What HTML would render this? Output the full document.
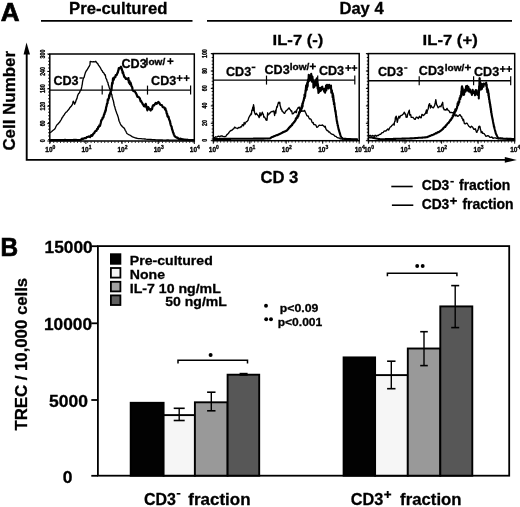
<!DOCTYPE html><html><head><meta charset="utf-8"><style>html,body{margin:0;padding:0;background:#fff;}svg{display:block;will-change:transform;}text{font-family:"Liberation Sans",sans-serif;font-weight:bold;stroke:#000;stroke-width:0.3px;}</style></head><body>
<svg width="520" height="507" viewBox="0 0 520 507">
<rect width="520" height="507" fill="#fff"/>
<g>
<text x="0.8" y="21.4" font-size="25.5" textLength="18.8" lengthAdjust="spacingAndGlyphs" style="stroke-width:0.7px">A</text>
<text x="69" y="14" font-size="16.5" textLength="98.5" lengthAdjust="spacingAndGlyphs">Pre-cultured</text>
<line x1="41" y1="20.9" x2="192.5" y2="20.9" stroke="#000" stroke-width="1.9"/>
<text x="339.4" y="13.5" font-size="16.5" textLength="44.3" lengthAdjust="spacingAndGlyphs">Day 4</text>
<line x1="207" y1="20.9" x2="512" y2="20.9" stroke="#000" stroke-width="1.9"/>
<text x="272.6" y="45" font-size="15.5" textLength="50.8" lengthAdjust="spacingAndGlyphs">IL-7 (-)</text>
<text x="422.6" y="45" font-size="15.5" textLength="55.1" lengthAdjust="spacingAndGlyphs">IL-7 (+)</text>
<polyline points="26.7,54 26.7,159.9 505,159.9" fill="none" stroke="#000" stroke-width="1.9"/>
<polygon points="26.5,42.4 23.6,54.6 30,54.6" fill="#000"/>
<polygon points="516.8,159.9 504.8,157.1 504.8,162.7" fill="#000"/>
<text transform="translate(14.5,150.6) rotate(-90)" font-size="16.4" textLength="99.6" lengthAdjust="spacingAndGlyphs">Cell Number</text>
<text x="260.4" y="182.8" font-size="16.3" textLength="38" lengthAdjust="spacingAndGlyphs">CD 3</text>
<line x1="391.3" y1="186.5" x2="412.7" y2="186.5" stroke="#000" stroke-width="1.6"/>
<line x1="391.9" y1="205.2" x2="413.3" y2="205.2" stroke="#000" stroke-width="1.6"/>
<text x="421.7" y="190.1" font-size="13.8" textLength="27.6" lengthAdjust="spacingAndGlyphs">CD3</text>
<line x1="450.4" y1="181.7" x2="453.8" y2="181.7" stroke="#000" stroke-width="1.6"/>
<text x="459" y="190.1" font-size="13.8" textLength="51.2" lengthAdjust="spacingAndGlyphs">fraction</text>
<text x="421.7" y="209.2" font-size="13.8" textLength="27.6" lengthAdjust="spacingAndGlyphs">CD3</text>
<line x1="450.1" y1="200.9" x2="456.9" y2="200.9" stroke="#000" stroke-width="1.8"/><line x1="453.5" y1="197.5" x2="453.5" y2="204.3" stroke="#000" stroke-width="1.8"/>
<text x="462.4" y="209.2" font-size="13.8" textLength="51.2" lengthAdjust="spacingAndGlyphs">fraction</text>
<rect x="49.8" y="54" width="144.5" height="87.0" fill="none" stroke="#000" stroke-width="1.5"/><line x1="47.3" y1="141.0" x2="49.8" y2="141.0" stroke="#000" stroke-width="1"/><line x1="47.3" y1="123.6" x2="49.8" y2="123.6" stroke="#000" stroke-width="1"/><line x1="47.3" y1="106.2" x2="49.8" y2="106.2" stroke="#000" stroke-width="1"/><line x1="47.3" y1="88.8" x2="49.8" y2="88.8" stroke="#000" stroke-width="1"/><line x1="47.3" y1="71.4" x2="49.8" y2="71.4" stroke="#000" stroke-width="1"/><line x1="47.3" y1="54.0" x2="49.8" y2="54.0" stroke="#000" stroke-width="1"/><line x1="48.8" y1="54" x2="48.8" y2="141.0" stroke="#000" stroke-width="1.2" stroke-dasharray="1,2.4"/><line x1="49.8" y1="142.2" x2="194.3" y2="142.2" stroke="#000" stroke-width="1.2" stroke-dasharray="1,2.4"/><line x1="49.8" y1="141.0" x2="49.8" y2="144.0" stroke="#000" stroke-width="1"/><text x="45.3" y="151.8" font-size="6.5">10<tspan font-size="5" dy="-2.8">0</tspan></text><line x1="85.9" y1="141.0" x2="85.9" y2="144.0" stroke="#000" stroke-width="1"/><text x="81.4" y="151.8" font-size="6.5">10<tspan font-size="5" dy="-2.8">1</tspan></text><line x1="122.0" y1="141.0" x2="122.0" y2="144.0" stroke="#000" stroke-width="1"/><text x="117.5" y="151.8" font-size="6.5">10<tspan font-size="5" dy="-2.8">2</tspan></text><line x1="158.2" y1="141.0" x2="158.2" y2="144.0" stroke="#000" stroke-width="1"/><text x="153.7" y="151.8" font-size="6.5">10<tspan font-size="5" dy="-2.8">3</tspan></text><line x1="194.3" y1="141.0" x2="194.3" y2="144.0" stroke="#000" stroke-width="1"/><text x="189.8" y="151.8" font-size="6.5">10<tspan font-size="5" dy="-2.8">4</tspan></text>
<rect x="213.3" y="53.6" width="145.89999999999998" height="87.1" fill="none" stroke="#000" stroke-width="1.5"/><line x1="210.8" y1="140.7" x2="213.3" y2="140.7" stroke="#000" stroke-width="1"/><line x1="210.8" y1="123.3" x2="213.3" y2="123.3" stroke="#000" stroke-width="1"/><line x1="210.8" y1="105.9" x2="213.3" y2="105.9" stroke="#000" stroke-width="1"/><line x1="210.8" y1="88.4" x2="213.3" y2="88.4" stroke="#000" stroke-width="1"/><line x1="210.8" y1="71.0" x2="213.3" y2="71.0" stroke="#000" stroke-width="1"/><line x1="210.8" y1="53.6" x2="213.3" y2="53.6" stroke="#000" stroke-width="1"/><line x1="212.3" y1="53.6" x2="212.3" y2="140.7" stroke="#000" stroke-width="1.2" stroke-dasharray="1,2.4"/><line x1="213.3" y1="141.89999999999998" x2="359.2" y2="141.89999999999998" stroke="#000" stroke-width="1.2" stroke-dasharray="1,2.4"/><line x1="213.3" y1="140.7" x2="213.3" y2="143.7" stroke="#000" stroke-width="1"/><text x="208.8" y="151.5" font-size="6.5">10<tspan font-size="5" dy="-2.8">0</tspan></text><line x1="249.8" y1="140.7" x2="249.8" y2="143.7" stroke="#000" stroke-width="1"/><text x="245.3" y="151.5" font-size="6.5">10<tspan font-size="5" dy="-2.8">1</tspan></text><line x1="286.2" y1="140.7" x2="286.2" y2="143.7" stroke="#000" stroke-width="1"/><text x="281.8" y="151.5" font-size="6.5">10<tspan font-size="5" dy="-2.8">2</tspan></text><line x1="322.7" y1="140.7" x2="322.7" y2="143.7" stroke="#000" stroke-width="1"/><text x="318.2" y="151.5" font-size="6.5">10<tspan font-size="5" dy="-2.8">3</tspan></text><line x1="359.2" y1="140.7" x2="359.2" y2="143.7" stroke="#000" stroke-width="1"/><text x="354.7" y="151.5" font-size="6.5">10<tspan font-size="5" dy="-2.8">4</tspan></text>
<rect x="368.4" y="53.6" width="146.30000000000007" height="87.1" fill="none" stroke="#000" stroke-width="1.5"/><line x1="365.9" y1="140.7" x2="368.4" y2="140.7" stroke="#000" stroke-width="1"/><line x1="365.9" y1="123.3" x2="368.4" y2="123.3" stroke="#000" stroke-width="1"/><line x1="365.9" y1="105.9" x2="368.4" y2="105.9" stroke="#000" stroke-width="1"/><line x1="365.9" y1="88.4" x2="368.4" y2="88.4" stroke="#000" stroke-width="1"/><line x1="365.9" y1="71.0" x2="368.4" y2="71.0" stroke="#000" stroke-width="1"/><line x1="365.9" y1="53.6" x2="368.4" y2="53.6" stroke="#000" stroke-width="1"/><line x1="367.4" y1="53.6" x2="367.4" y2="140.7" stroke="#000" stroke-width="1.2" stroke-dasharray="1,2.4"/><line x1="368.4" y1="141.89999999999998" x2="514.7" y2="141.89999999999998" stroke="#000" stroke-width="1.2" stroke-dasharray="1,2.4"/><line x1="368.4" y1="140.7" x2="368.4" y2="143.7" stroke="#000" stroke-width="1"/><text x="363.9" y="151.5" font-size="6.5">10<tspan font-size="5" dy="-2.8">0</tspan></text><line x1="405.0" y1="140.7" x2="405.0" y2="143.7" stroke="#000" stroke-width="1"/><text x="400.5" y="151.5" font-size="6.5">10<tspan font-size="5" dy="-2.8">1</tspan></text><line x1="441.6" y1="140.7" x2="441.6" y2="143.7" stroke="#000" stroke-width="1"/><text x="437.1" y="151.5" font-size="6.5">10<tspan font-size="5" dy="-2.8">2</tspan></text><line x1="478.1" y1="140.7" x2="478.1" y2="143.7" stroke="#000" stroke-width="1"/><text x="473.6" y="151.5" font-size="6.5">10<tspan font-size="5" dy="-2.8">3</tspan></text><line x1="514.7" y1="140.7" x2="514.7" y2="143.7" stroke="#000" stroke-width="1"/><text x="510.2" y="151.5" font-size="6.5">10<tspan font-size="5" dy="-2.8">4</tspan></text>
<text transform="translate(45.4,140.8) rotate(-90)" font-size="6.4" text-anchor="middle" textLength="2.95" lengthAdjust="spacingAndGlyphs" stroke="#000" stroke-width="0.3">0</text><text transform="translate(45.4,123.4) rotate(-90)" font-size="6.4" text-anchor="middle" textLength="5.90" lengthAdjust="spacingAndGlyphs" stroke="#000" stroke-width="0.3">60</text><text transform="translate(45.4,106.1) rotate(-90)" font-size="6.4" text-anchor="middle" textLength="8.85" lengthAdjust="spacingAndGlyphs" stroke="#000" stroke-width="0.3">120</text><text transform="translate(45.4,88.7) rotate(-90)" font-size="6.4" text-anchor="middle" textLength="8.85" lengthAdjust="spacingAndGlyphs" stroke="#000" stroke-width="0.3">180</text><text transform="translate(45.4,71.4) rotate(-90)" font-size="6.4" text-anchor="middle" textLength="8.85" lengthAdjust="spacingAndGlyphs" stroke="#000" stroke-width="0.3">240</text><text transform="translate(45.4,54.0) rotate(-90)" font-size="6.4" text-anchor="middle" textLength="8.85" lengthAdjust="spacingAndGlyphs" stroke="#000" stroke-width="0.3">300</text>
<text transform="translate(207.1,140.3) rotate(-90)" font-size="6.4" text-anchor="middle" textLength="2.95" lengthAdjust="spacingAndGlyphs" stroke="#000" stroke-width="0.3">0</text><text transform="translate(207.1,123.0) rotate(-90)" font-size="6.4" text-anchor="middle" textLength="5.90" lengthAdjust="spacingAndGlyphs" stroke="#000" stroke-width="0.3">20</text><text transform="translate(207.1,105.6) rotate(-90)" font-size="6.4" text-anchor="middle" textLength="5.90" lengthAdjust="spacingAndGlyphs" stroke="#000" stroke-width="0.3">40</text><text transform="translate(207.1,88.3) rotate(-90)" font-size="6.4" text-anchor="middle" textLength="5.90" lengthAdjust="spacingAndGlyphs" stroke="#000" stroke-width="0.3">60</text><text transform="translate(207.1,70.9) rotate(-90)" font-size="6.4" text-anchor="middle" textLength="5.90" lengthAdjust="spacingAndGlyphs" stroke="#000" stroke-width="0.3">80</text><text transform="translate(207.1,53.6) rotate(-90)" font-size="6.4" text-anchor="middle" textLength="8.85" lengthAdjust="spacingAndGlyphs" stroke="#000" stroke-width="0.3">100</text>
<line x1="49.7" y1="90.1" x2="190.6" y2="90.1" stroke="#000" stroke-width="1.4"/><line x1="102.2" y1="85.6" x2="102.2" y2="94.6" stroke="#000" stroke-width="1.2"/><line x1="147.5" y1="85.6" x2="147.5" y2="94.6" stroke="#000" stroke-width="1.2"/><line x1="190.6" y1="85.6" x2="190.6" y2="94.6" stroke="#000" stroke-width="1.2"/>
<line x1="213.2" y1="80.1" x2="354.8" y2="80.1" stroke="#000" stroke-width="1.4"/><line x1="266.5" y1="75.6" x2="266.5" y2="84.6" stroke="#000" stroke-width="1.2"/><line x1="317.7" y1="75.6" x2="317.7" y2="84.6" stroke="#000" stroke-width="1.2"/><line x1="354.8" y1="75.6" x2="354.8" y2="84.6" stroke="#000" stroke-width="1.2"/>
<line x1="368.4" y1="80.8" x2="510.7" y2="80.8" stroke="#000" stroke-width="1.4"/><line x1="419.2" y1="76.3" x2="419.2" y2="85.3" stroke="#000" stroke-width="1.2"/><line x1="473.6" y1="76.3" x2="473.6" y2="85.3" stroke="#000" stroke-width="1.2"/><line x1="510.7" y1="76.3" x2="510.7" y2="85.3" stroke="#000" stroke-width="1.2"/>
<polyline points="50.0,132.7 51.5,131.7 52.5,130.8 53.5,130.0 54.5,129.3 55.3,128.1 56.0,126.5 56.8,125.0 57.7,124.3 58.6,123.2 59.5,122.3 60.4,120.9 61.0,120.0 61.6,118.9 62.2,117.5 62.8,116.9 63.4,115.8 64.0,115.3 64.9,113.6 65.9,112.4 66.8,111.8 67.8,110.4 68.7,109.6 69.6,108.0 70.5,107.0 71.4,106.0 72.3,104.7 72.7,103.4 73.0,101.8 73.4,101.2 74.0,102.5 74.6,104.2 75.1,102.9 75.6,102.1 76.0,100.5 76.5,99.4 77.0,98.4 77.5,96.1 78.0,94.7 78.7,93.4 79.4,93.0 80.2,90.8 81.1,89.8 81.4,88.4 81.8,86.7 82.1,84.9 82.3,84.3 82.5,82.2 82.7,81.1 83.2,78.9 83.6,77.9 84.1,77.3 84.6,75.4 85.4,72.6 86.2,71.0 87.0,70.0 87.8,68.7 88.5,67.4 89.2,66.4 89.9,64.7 90.0,64.3 90.1,63.3 90.2,61.4 92.1,61.8 93.4,61.6 94.8,61.8 95.8,61.3 96.9,63.0 97.7,63.6 98.5,65.1 99.6,66.7 100.6,68.2 101.6,70.2 102.2,70.7 102.8,72.2 103.5,72.6 104.1,73.4 104.7,74.9 105.2,74.7 105.7,77.2 106.1,78.6 106.6,79.2 107.1,81.2 107.5,82.0 107.9,82.5 108.3,84.8 108.7,85.7 109.1,87.2 109.8,88.9 110.6,91.0 110.9,91.8 111.2,93.0 111.6,94.4 111.9,94.9 112.2,97.3 112.5,97.7 112.8,99.5 113.2,100.2 113.5,101.5 113.8,103.0 114.1,105.0 114.4,105.9 114.8,106.8 115.1,108.2 115.4,109.2 115.9,110.8 116.3,111.9 116.8,113.5 117.2,114.2 117.7,115.7 118.1,116.9 118.5,118.3 118.8,120.0 119.2,121.2 119.8,122.5 120.3,123.8 120.9,124.9 121.5,125.5 122.5,126.9 123.6,127.5 124.6,128.8 125.2,130.3 125.8,131.1 126.3,132.3 126.9,133.5 128.2,134.3 129.5,135.0 130.8,135.7 132.1,136.6 133.3,137.2 134.6,137.7 135.9,138.0 137.2,138.3 138.5,138.6 139.8,138.6 141.0,138.7 142.2,138.8 143.5,138.8 144.8,139.0 146.0,139.2 147.2,139.3 148.5,139.3 149.8,139.4 151.0,139.5 152.2,139.6 153.5,139.7 154.8,139.7 156.0,139.8 157.2,139.9 158.5,140.0 159.7,140.0 160.9,140.0 162.2,140.0 163.4,140.1 164.6,140.1 165.8,140.1 167.1,140.0 168.3,140.0 169.5,140.1 170.7,140.1 172.0,140.1 173.2,140.1 174.4,140.1 175.6,140.1 176.9,140.1 178.1,140.1 179.3,140.1 180.5,140.2 181.8,140.1 183.0,140.1 184.2,140.2 185.4,140.1 186.7,140.1 187.9,140.2 189.1,140.2 190.3,140.2 191.6,140.2 192.8,140.2 194.0,140.2" fill="none" stroke="#000" stroke-width="1.35" stroke-linejoin="round"/>
<polyline points="50.0,140.3 51.0,140.2 52.0,140.2 53.0,140.2 54.0,140.2 55.0,140.1 56.0,140.1 57.0,140.1 58.0,140.1 59.0,140.1 60.0,140.1 61.0,140.1 62.0,140.1 63.0,140.1 64.0,140.1 65.0,139.9 66.0,140.2 67.0,140.1 68.0,140.0 69.0,140.1 70.0,140.1 71.0,140.1 72.0,140.0 73.0,140.1 74.0,139.9 75.0,140.2 76.0,139.9 77.0,140.0 78.0,140.0 79.0,140.0 80.0,140.0 81.0,139.7 81.9,138.7 82.9,138.9 83.8,138.5 84.8,138.1 85.8,138.2 86.7,137.2 87.7,137.0 88.8,136.5 90.0,137.1 90.7,135.9 91.4,135.1 92.2,135.8 92.9,134.5 93.6,133.5 94.3,132.9 95.0,131.5 95.7,130.9 96.4,130.9 97.1,128.9 97.7,129.1 98.3,126.9 98.9,126.9 99.5,125.2 100.0,125.8 100.4,124.3 100.9,122.2 101.3,120.2 101.8,119.9 102.2,119.4 102.6,117.7 103.0,117.7 103.4,117.2 103.8,115.4 104.2,114.1 104.5,114.2 104.8,112.3 105.1,112.3 105.4,110.3 105.7,111.0 106.0,108.3 106.3,106.6 106.5,106.6 106.8,104.9 107.0,103.6 107.3,103.4 107.5,103.2 107.8,99.3 108.1,100.4 108.4,99.4 108.7,98.4 108.9,98.4 109.2,95.2 109.5,96.3 109.8,94.2 110.1,93.5 110.5,92.1 110.8,90.9 111.1,89.6 111.3,89.6 111.4,90.5 111.6,88.2 111.7,86.9 111.9,85.5 112.1,83.0 112.4,83.1 112.6,83.6 113.0,78.5 113.4,80.2 113.8,79.5 114.2,77.6 114.5,77.3 114.9,77.1 115.3,77.2 115.7,75.1 116.6,75.1 117.5,72.9 117.8,72.6 118.2,70.8 118.5,70.0 118.8,68.1 120.0,68.3 120.3,67.7 121.0,66.8 121.7,68.7 122.0,70.3 122.3,70.6 122.6,72.9 122.8,73.1 123.1,72.4 123.4,73.7 124.2,76.8 125.1,77.5 125.9,78.9 126.7,78.7 127.6,79.5 128.4,78.1 128.9,82.7 129.4,80.9 130.0,84.2 130.5,82.6 131.0,84.2 131.4,86.1 131.8,86.5 132.2,87.2 132.6,90.0 133.0,90.7 133.7,91.2 134.3,91.2 134.9,91.5 135.6,92.7 136.2,93.6 136.8,95.0 137.5,96.8 138.1,96.8 138.9,97.2 139.8,98.4 140.6,101.3 141.1,101.0 141.6,102.0 142.2,103.0 142.7,104.1 143.2,104.6 144.0,106.2 144.9,106.5 145.7,103.8 146.5,106.9 147.4,110.3 148.2,107.2 149.4,109.1 150.7,110.5 151.3,108.8 152.0,109.2 152.7,106.1 153.3,105.2 154.1,105.4 155.0,104.0 155.8,102.9 156.6,103.8 157.5,102.9 158.3,102.0 159.1,102.6 160.0,104.3 160.8,105.0 161.8,105.1 162.7,106.9 163.7,107.4 164.6,107.8 165.0,109.3 165.4,108.6 165.8,110.4 166.3,111.1 166.7,113.6 167.1,113.8 167.5,116.2 167.8,116.8 168.2,116.3 168.6,116.9 169.0,119.1 169.3,119.6 169.7,120.8 170.0,121.2 170.3,123.3 170.5,124.0 170.8,125.1 171.1,126.0 171.4,126.3 171.6,126.6 171.9,128.7 172.2,129.5 172.6,130.6 173.0,132.3 173.4,132.9 173.9,134.6 174.3,135.1 174.7,136.3 175.6,136.9 176.6,137.6 177.6,137.7 178.5,138.8 179.6,138.8 180.7,138.7 181.8,139.2 182.9,139.3 184.0,139.6 185.1,139.7 186.2,139.8 187.3,139.7 188.4,140.1 189.5,140.1 190.7,140.1 191.8,140.1 192.9,140.2 194.0,140.2" fill="none" stroke="#000" stroke-width="2.25" stroke-linejoin="round"/>
<polyline points="214.0,138.0 214.6,137.7 215.6,136.8 216.7,137.1 217.7,136.5 218.7,136.2 219.8,136.8 220.8,135.9 222.0,136.0 223.1,136.4 224.2,136.7 225.4,136.5 226.2,136.0 226.9,134.6 227.7,134.1 228.5,133.3 229.2,132.1 230.0,131.2 230.8,130.4 231.5,130.5 232.3,129.9 233.1,129.1 233.8,128.7 234.6,127.1 235.6,127.9 236.7,128.2 237.7,128.5 238.7,127.4 239.8,127.7 240.8,126.6 241.5,126.9 242.2,124.9 242.8,124.7 243.5,125.8 244.2,122.5 244.9,124.1 245.5,123.0 246.2,121.7 246.9,121.6 247.5,120.8 248.0,120.4 248.6,118.3 249.1,117.1 249.7,116.2 250.2,114.9 250.8,115.0 251.1,113.3 251.5,114.2 251.8,110.2 252.1,110.1 252.5,109.2 252.8,107.0 253.1,110.5 253.5,104.7 253.8,106.2 253.9,106.9 254.0,110.4 254.1,107.3 254.3,111.7 254.4,110.7 254.5,112.3 254.6,112.8 255.5,114.6 256.4,113.3 257.4,114.8 258.3,115.7 259.2,117.6 260.0,112.6 260.8,115.8 261.5,114.4 262.3,112.2 262.8,114.0 263.3,114.2 263.8,117.2 264.2,116.8 264.7,117.3 265.2,118.3 265.7,119.3 266.2,120.2 266.6,118.6 267.0,120.2 267.4,115.5 267.7,112.8 268.1,115.1 268.5,114.1 269.4,113.8 270.3,112.5 271.2,111.8 272.1,111.5 273.0,111.5 273.5,111.0 274.1,112.1 274.6,115.5 275.0,113.1 275.4,110.5 275.8,113.1 276.1,110.5 276.5,108.1 276.9,106.4 277.3,107.1 277.7,104.9 278.1,103.6 278.4,102.4 278.8,102.3 279.2,103.4 279.5,102.5 279.8,102.3 280.1,105.8 280.4,106.1 280.8,108.0 281.1,109.4 281.4,108.8 281.7,109.8 282.0,111.0 282.3,110.8 283.5,112.7 284.6,113.4 285.5,111.5 286.4,110.5 287.4,109.8 288.3,108.6 289.2,107.9 289.8,109.3 290.4,109.8 291.1,111.2 291.7,110.9 292.3,113.9 293.3,113.6 294.4,112.3 295.4,111.1 295.9,112.5 296.4,112.6 296.9,109.6 297.5,108.8 298.0,107.7 298.5,108.0 299.2,107.0 300.0,109.9 300.8,109.3 301.5,111.4 302.5,111.0 303.6,111.2 304.6,110.4 305.4,112.3 306.1,113.7 306.9,115.7 307.5,116.0 308.2,115.9 308.9,117.7 309.5,119.0 310.1,118.7 310.8,119.2 311.4,120.2 312.0,122.1 312.6,122.8 313.2,122.5 313.8,124.5 314.8,124.6 315.9,125.2 316.9,127.4 318.0,126.7 319.2,125.2 320.4,125.4 321.5,125.4 322.5,125.0 323.6,125.9 324.6,127.0 325.2,126.2 325.8,128.6 326.5,129.8 327.1,130.6 327.7,130.4 328.6,132.0 329.5,131.9 330.5,133.3 331.4,133.9 332.3,134.3 333.2,134.5 334.1,135.2 335.1,136.4 336.0,136.4 336.9,137.4 338.0,137.8 339.2,138.0 340.4,138.9 341.5,138.8 342.5,139.2 343.6,138.6 344.6,138.6 345.6,139.1 346.7,139.1 347.7,139.0 348.7,139.1 349.8,138.9 350.8,139.1 351.8,139.1 352.8,139.3 353.9,139.4 354.9,139.4 355.9,139.4 357.0,139.4 358.0,139.5" fill="none" stroke="#000" stroke-width="1.35" stroke-linejoin="round"/>
<polyline points="214.0,139.0 214.4,139.0 214.8,139.0 215.2,139.0 215.6,139.0 216.0,139.0 216.4,139.0 216.8,139.0 217.2,139.0 217.6,139.0 218.0,139.0 218.4,139.0 218.8,139.0 219.2,139.0 219.6,139.0 220.0,139.0 220.4,138.9 220.8,138.9 221.2,138.9 221.6,138.9 222.0,138.9 222.4,138.9 222.8,138.9 223.2,138.9 223.6,138.9 224.0,138.9 224.4,138.9 224.8,138.9 225.2,138.9 225.6,138.9 226.0,138.9 226.4,138.9 226.8,138.9 227.2,138.9 227.6,138.9 228.0,138.9 228.4,138.9 228.8,138.9 229.2,138.9 229.6,138.9 230.0,138.8 230.4,138.9 230.8,138.8 231.2,138.8 231.6,138.8 232.0,138.8 232.4,138.8 232.8,138.8 233.2,138.8 233.6,138.8 234.0,138.8 234.4,138.8 234.8,138.8 235.2,138.8 235.6,138.8 236.0,138.8 236.4,138.8 236.8,138.8 237.2,138.8 237.6,138.8 238.0,138.8 238.4,138.8 238.8,138.8 239.2,138.8 239.6,138.8 240.0,138.8 240.4,138.8 240.8,138.8 241.2,138.8 241.6,138.7 242.0,138.8 242.4,138.8 242.8,138.7 243.2,138.7 243.6,138.8 244.0,138.7 244.4,138.7 244.8,138.7 245.2,138.7 245.6,138.7 246.0,138.7 246.4,138.7 246.8,138.7 247.2,138.7 247.6,138.7 248.0,138.7 248.4,138.7 248.8,138.7 249.2,138.7 249.6,138.7 250.0,138.7 250.4,138.7 250.8,138.7 251.2,138.7 251.6,138.7 252.0,138.7 252.4,138.7 252.8,138.7 253.2,138.7 253.6,138.6 254.0,138.6 254.4,138.6 254.8,138.6 255.2,138.6 255.6,138.6 256.0,138.6 256.4,138.6 256.8,138.6 257.2,138.6 257.6,138.6 258.0,138.6 258.4,138.6 258.8,138.6 259.2,138.6 259.6,138.6 260.0,138.6 260.4,138.6 260.8,138.6 261.2,138.6 261.6,138.6 262.0,138.6 262.4,138.6 262.8,138.6 263.2,138.6 263.6,138.6 264.0,138.6 264.4,138.6 264.8,138.5 265.2,138.6 265.6,138.5 266.0,138.5 266.4,138.5 266.8,138.5 267.2,138.6 267.6,138.5 268.0,138.5 268.4,138.5 268.8,138.5 269.2,138.5 269.6,138.5 270.0,138.5 270.4,138.2 270.8,137.9 271.1,137.6 271.5,137.3 271.9,137.1 272.3,137.0 272.7,136.9 273.0,136.8 273.4,136.5 273.8,136.3 274.2,136.3 274.6,136.1 275.0,135.8 275.4,135.8 275.7,135.5 276.1,135.4 276.5,135.2 276.9,135.1 277.3,135.2 277.7,134.9 278.0,134.7 278.4,134.7 278.8,134.3 279.2,134.2 279.6,134.0 279.9,133.9 280.3,133.6 280.7,133.6 281.0,133.3 281.4,133.2 281.8,133.0 282.1,132.6 282.5,132.4 282.9,132.4 283.2,131.9 283.6,132.0 284.0,131.9 284.3,131.7 284.7,131.5 285.1,131.4 285.4,131.1 285.8,131.1 286.2,130.5 286.5,130.8 286.9,130.2 287.2,130.2 287.5,129.7 287.7,129.4 288.0,129.0 288.3,129.2 288.6,128.3 288.8,127.9 289.1,128.0 289.4,127.7 289.7,127.3 289.9,126.7 290.2,126.5 290.5,126.7 290.8,125.8 291.0,126.0 291.3,125.7 291.6,125.2 291.9,124.4 292.1,125.2 292.4,124.3 292.7,124.0 293.0,123.5 293.2,123.0 293.5,122.9 293.8,122.8 294.0,122.0 294.2,122.0 294.4,122.1 294.7,121.5 294.9,120.9 295.1,121.1 295.3,120.7 295.5,120.3 295.7,119.2 295.9,118.3 296.1,119.3 296.4,118.5 296.6,118.0 296.8,118.1 297.0,117.2 297.2,116.8 297.4,117.8 297.6,115.5 297.9,116.5 298.1,116.3 298.3,116.4 298.5,115.2 298.7,114.9 298.8,113.6 299.0,113.9 299.1,112.1 299.3,112.7 299.4,112.7 299.6,112.2 299.8,111.6 299.9,112.4 300.1,110.0 300.2,110.9 300.4,110.1 300.6,110.0 300.7,109.7 300.9,110.8 301.0,108.0 301.2,109.6 301.4,109.3 301.5,107.6 301.7,106.8 301.8,105.9 302.0,105.8 302.1,108.0 302.3,103.8 302.4,105.8 302.5,104.3 302.6,106.4 302.7,104.5 302.8,102.5 302.9,102.9 303.0,103.2 303.1,102.7 303.2,101.2 303.3,101.5 303.4,100.9 303.5,101.5 303.6,100.8 303.7,100.4 303.8,99.1 303.9,100.2 304.0,98.3 304.1,97.6 304.2,97.6 304.3,97.3 304.4,96.9 304.5,94.6 304.6,98.2 304.7,96.9 304.8,97.4 304.9,94.8 304.9,95.9 305.0,94.8 305.1,94.2 305.2,96.1 305.3,92.5 305.4,93.7 305.5,90.2 305.5,92.9 305.6,91.5 305.7,89.9 305.8,90.1 305.9,87.5 306.0,88.6 306.0,90.0 306.1,85.5 306.2,90.6 306.3,90.0 306.4,87.0 306.5,85.5 306.6,85.2 306.6,85.0 306.7,85.4 306.8,89.7 306.9,84.0 307.0,86.6 307.1,87.1 307.2,83.1 307.3,83.8 307.4,85.0 307.5,82.4 307.6,85.2 307.7,86.4 307.8,82.2 307.9,80.5 308.0,82.6 308.1,81.7 308.2,79.4 308.3,80.1 308.4,80.1 308.5,80.5 308.6,81.3 308.6,77.9 308.7,76.0 308.7,74.9 308.8,81.1 308.8,76.4 308.9,76.0 308.9,81.2 309.0,78.2 309.2,80.7 309.5,76.3 309.8,75.6 310.0,76.3 310.2,78.2 310.4,77.4 310.6,77.0 310.8,80.3 311.0,78.2 311.2,73.7 311.4,77.1 311.6,77.7 311.7,75.5 311.9,81.7 312.1,79.4 312.3,80.9 312.4,77.4 312.5,76.7 312.6,80.6 312.7,79.3 312.8,79.0 312.9,80.3 313.0,81.3 313.1,81.6 313.2,81.4 313.3,83.0 313.4,87.6 313.5,85.0 313.9,82.4 314.3,86.9 314.6,82.9 315.0,81.4 315.4,81.9 315.5,80.4 315.6,85.4 315.8,81.2 315.9,80.2 316.0,81.3 316.1,81.5 316.3,79.3 316.4,80.1 316.5,80.7 316.6,81.5 316.8,78.2 316.9,80.6 317.0,80.5 317.0,81.4 317.1,79.8 317.1,79.1 317.2,83.3 317.3,83.0 317.3,81.2 317.4,81.4 317.4,84.4 317.5,87.0 317.6,84.6 317.6,88.6 317.7,85.3 317.7,85.7 317.8,86.4 317.8,87.7 317.9,84.0 318.0,87.0 318.0,89.2 318.1,85.2 318.1,88.4 318.2,89.5 318.3,91.4 318.3,91.5 318.4,89.5 318.4,93.0 318.5,88.8 318.9,88.2 319.2,91.9 319.6,90.8 320.0,87.9 320.4,91.0 320.8,90.5 321.1,90.1 321.5,88.1 321.9,87.1 322.3,86.7 322.7,89.1 323.1,89.4 323.4,89.0 323.8,89.2 324.2,91.5 324.6,88.7 324.8,89.0 325.1,92.6 325.3,88.4 325.6,88.0 325.8,90.2 326.0,85.5 326.3,90.4 326.5,85.6 326.7,85.9 327.0,84.8 327.2,85.0 327.5,85.0 327.7,87.3 328.0,85.9 328.4,88.5 328.7,87.8 329.1,84.8 329.4,87.0 329.8,86.3 330.1,86.8 330.5,87.9 330.8,88.6 330.9,89.0 331.0,85.6 331.1,88.9 331.2,88.9 331.3,92.7 331.4,90.0 331.6,90.7 331.7,91.1 331.8,92.6 331.9,90.3 332.0,92.1 332.1,92.5 332.2,93.1 332.3,93.1 332.4,93.2 332.5,94.4 332.5,93.0 332.6,97.2 332.7,95.5 332.8,93.6 332.9,96.0 332.9,97.9 333.0,96.9 333.1,97.4 333.2,95.2 333.2,100.0 333.3,98.8 333.4,96.9 333.5,99.1 333.6,101.6 333.6,100.8 333.7,99.1 333.8,100.6 333.9,101.9 333.9,104.2 334.0,102.6 334.1,103.5 334.1,102.9 334.2,103.6 334.3,103.0 334.4,103.1 334.4,103.5 334.5,104.6 334.6,106.8 334.6,106.0 334.7,107.5 334.8,107.5 334.8,107.3 334.9,107.2 335.0,109.8 335.1,109.3 335.1,109.8 335.2,111.2 335.3,110.8 335.3,110.2 335.4,110.7 335.5,111.2 335.5,112.9 335.6,110.8 335.6,110.7 335.7,112.1 335.7,112.8 335.8,112.8 335.8,114.2 335.9,114.4 336.0,114.4 336.0,114.8 336.1,116.4 336.1,116.8 336.2,117.0 336.2,116.2 336.3,117.5 336.3,116.5 336.4,116.6 336.5,118.9 336.5,118.9 336.6,119.2 336.6,119.9 336.7,120.4 336.7,120.1 336.8,120.5 336.8,121.1 336.9,121.6 337.0,121.7 337.1,121.4 337.2,123.4 337.2,122.5 337.3,123.0 337.4,123.8 337.5,124.0 337.6,124.6 337.7,125.6 337.7,125.7 337.8,125.5 337.9,126.1 338.0,126.4 338.1,127.2 338.2,127.0 338.2,127.3 338.3,127.6 338.4,128.5 338.5,128.9 338.6,129.3 338.7,129.8 338.8,129.7 339.0,130.3 339.1,130.5 339.2,131.3 339.3,131.6 339.4,131.7 339.5,132.3 339.6,132.7 339.8,133.1 339.9,133.5 340.0,133.7 340.1,134.2 340.2,134.5 340.3,134.9 340.5,135.3 340.6,135.8 340.7,136.2 340.8,136.5 341.1,136.8 341.4,137.2 341.7,137.5 342.1,137.8 342.4,138.2 342.7,138.5 343.0,138.8 343.4,138.8 343.8,138.8 344.2,138.9 344.6,138.9 345.0,138.9 345.4,138.9 345.8,138.9 346.2,138.9 346.6,139.0 347.1,139.0 347.5,139.0 347.9,139.0 348.3,139.0 348.7,139.1 349.1,139.1 349.5,139.1 349.9,139.1 350.3,139.1 350.7,139.2 351.1,139.2 351.5,139.2 351.9,139.2 352.3,139.2 352.7,139.3 353.1,139.3 353.5,139.3 353.9,139.3 354.4,139.3 354.8,139.3 355.2,139.4 355.6,139.4 356.0,139.4 356.4,139.4 356.8,139.4 357.2,139.5 357.6,139.5 358.0,139.5" fill="none" stroke="#000" stroke-width="2.1" stroke-linejoin="round"/>
<polyline points="369.0,135.6 370.4,135.4 371.7,136.3 372.9,135.4 374.2,136.5 375.2,135.3 376.3,136.2 377.3,135.4 378.3,135.5 379.4,134.4 380.4,134.4 381.3,133.5 382.2,132.6 383.2,132.5 384.1,131.1 385.0,131.0 385.9,131.0 386.8,130.0 387.8,129.0 388.7,130.1 389.6,128.0 390.4,126.8 391.1,126.6 391.9,125.4 392.7,124.7 393.4,124.0 394.2,125.1 394.4,122.5 394.7,121.6 394.9,121.1 395.1,121.3 395.3,118.3 395.6,116.9 395.8,118.9 396.2,116.1 396.6,118.1 396.9,120.0 397.3,122.4 398.1,118.6 398.9,116.2 399.6,118.1 400.4,116.0 401.2,115.4 401.9,115.4 402.7,114.4 403.5,113.7 404.2,112.2 405.0,113.3 405.2,114.5 405.5,114.0 405.8,114.5 406.0,116.7 406.2,117.4 406.5,117.0 406.8,116.6 407.2,117.1 407.5,115.0 407.8,113.8 408.1,113.4 408.5,112.1 408.8,111.2 409.3,110.2 409.8,115.1 410.2,114.6 410.7,114.6 411.2,117.4 412.2,117.3 413.2,117.5 414.2,119.0 415.2,119.4 416.3,117.1 417.3,117.4 418.3,118.6 419.4,116.3 420.4,117.5 421.2,117.8 421.9,114.4 422.7,114.9 423.5,115.5 424.5,114.5 425.5,113.3 426.5,109.9 426.9,113.4 427.4,110.5 427.8,109.8 428.3,108.5 428.7,105.0 429.2,104.3 429.6,103.6 430.4,108.0 431.1,105.5 431.9,107.0 432.7,107.7 433.3,107.8 433.9,106.8 434.6,105.6 435.2,102.9 435.8,99.7 436.6,104.6 437.3,105.7 438.1,107.8 438.8,107.2 439.8,106.1 440.9,106.8 441.9,104.0 442.3,103.4 442.7,102.3 442.9,104.9 443.2,108.0 443.4,107.4 443.7,108.9 443.9,108.8 444.2,109.9 445.1,109.6 446.0,110.2 447.0,108.4 447.9,110.2 448.8,110.5 450.0,112.6 451.1,112.3 452.3,112.6 453.5,112.9 454.2,111.8 455.0,114.2 455.8,116.0 456.5,115.0 457.7,116.4 458.9,115.6 460.0,114.6 461.2,116.6 461.7,116.7 462.1,118.5 462.6,118.9 463.0,120.5 463.5,119.4 464.4,123.7 465.4,123.8 466.4,123.2 467.3,123.5 468.1,125.0 468.9,126.3 469.6,126.8 470.4,127.6 471.5,126.3 472.7,127.3 473.9,129.3 475.0,129.0 475.4,128.8 475.8,130.2 476.1,130.9 476.5,132.2 476.9,132.4 477.4,130.6 477.8,130.5 478.3,128.9 478.7,126.7 479.2,126.3 479.6,127.5 479.9,126.3 480.1,127.1 480.4,129.7 480.7,129.9 480.9,130.9 481.2,132.7 482.0,131.6 482.7,133.4 483.5,133.3 484.3,133.9 485.0,134.8 485.8,136.3 486.8,136.0 487.8,135.6 488.9,136.2 489.9,137.3 490.9,137.4 491.9,137.0 493.0,138.3 494.2,137.8 495.4,137.8 496.5,138.4 497.5,138.6 498.6,138.8 499.6,138.7 500.6,138.5 501.6,138.5 502.7,138.3 503.7,138.6 504.7,138.6 505.8,138.8 506.8,138.5 507.8,138.7 508.9,138.7 509.9,138.7 510.9,138.7 511.9,138.8 513.0,138.8 514.0,139.0" fill="none" stroke="#000" stroke-width="1.35" stroke-linejoin="round"/>
<polyline points="369.0,137.5 369.5,137.4 369.9,137.3 370.4,137.3 370.8,137.4 371.2,137.5 371.6,137.5 372.0,137.6 372.4,137.7 372.8,137.8 373.2,137.9 373.6,138.0 374.0,138.0 374.4,138.1 374.8,138.2 375.2,138.3 375.6,138.3 376.0,138.4 376.4,138.5 376.8,138.6 377.2,138.7 377.6,138.7 378.0,138.8 378.4,138.9 378.8,139.0 379.2,139.1 379.6,139.1 380.0,139.2 380.4,139.3 380.8,139.3 381.2,139.3 381.6,139.3 382.0,139.3 382.4,139.2 382.8,139.2 383.2,139.2 383.6,139.2 384.0,139.2 384.4,139.2 384.8,139.2 385.2,139.2 385.6,139.1 386.0,139.1 386.4,139.1 386.8,139.1 387.2,139.1 387.6,139.1 388.0,139.1 388.4,139.1 388.8,139.1 389.2,139.0 389.6,139.0 390.0,139.0 390.4,139.0 390.8,139.0 391.2,139.0 391.6,139.0 392.0,139.0 392.4,139.0 392.8,139.0 393.2,138.9 393.6,138.9 394.0,138.9 394.4,138.9 394.8,138.9 395.2,138.9 395.6,138.9 396.0,138.8 396.4,138.8 396.8,138.8 397.2,138.8 397.6,138.8 398.0,138.8 398.4,138.8 398.8,138.8 399.2,138.7 399.6,138.7 400.0,138.7 400.4,138.7 400.8,138.7 401.2,138.7 401.6,138.7 402.0,138.6 402.4,138.7 402.8,138.6 403.2,138.6 403.6,138.6 404.0,138.6 404.4,138.6 404.8,138.6 405.2,138.6 405.6,138.6 406.0,138.5 406.4,138.5 406.8,138.5 407.2,138.5 407.6,138.5 408.0,138.5 408.4,138.5 408.8,138.5 409.2,138.4 409.6,138.5 410.0,138.4 410.4,138.4 410.8,138.4 411.2,138.4 411.6,138.4 412.0,138.4 412.4,138.3 412.8,138.3 413.2,138.2 413.6,138.2 414.0,138.2 414.4,138.2 414.8,138.1 415.2,138.1 415.6,138.1 416.0,138.0 416.4,138.0 416.8,138.0 417.2,137.9 417.6,138.0 418.0,137.9 418.4,137.8 418.9,137.8 419.3,137.8 419.7,137.8 420.1,137.8 420.5,137.8 420.9,137.7 421.3,137.7 421.7,137.7 422.1,137.6 422.5,137.6 422.9,137.6 423.3,137.5 423.7,137.5 424.1,137.5 424.5,137.4 424.9,137.4 425.3,137.4 425.7,137.3 426.1,137.3 426.5,137.3 426.9,137.2 427.3,137.0 427.7,136.9 428.0,136.7 428.4,136.5 428.8,136.4 429.2,136.2 429.6,136.0 430.0,136.0 430.4,135.8 430.7,135.5 431.1,135.5 431.5,135.2 431.9,135.0 432.3,135.1 432.7,134.9 433.0,134.8 433.4,134.6 433.8,134.5 434.2,134.1 434.6,134.1 435.0,133.7 435.4,133.6 435.7,133.2 436.1,133.4 436.5,133.3 436.9,133.0 437.3,132.6 437.6,132.5 438.0,132.1 438.4,132.1 438.8,132.1 439.1,131.9 439.5,131.6 439.8,131.4 440.2,131.0 440.5,130.9 440.9,130.6 441.2,130.5 441.5,130.0 441.8,130.0 442.1,129.5 442.4,129.3 442.7,128.9 442.9,129.0 443.2,128.6 443.5,127.8 443.8,127.5 444.1,127.6 444.4,127.2 444.7,126.8 445.0,126.6 445.3,126.8 445.6,125.9 445.8,126.1 446.1,125.2 446.4,125.0 446.7,124.9 447.0,124.5 447.3,124.0 447.5,123.5 447.8,123.4 448.0,123.1 448.3,122.9 448.5,123.0 448.8,122.5 449.0,122.4 449.2,121.7 449.5,121.5 449.7,121.2 450.0,121.0 450.2,120.8 450.4,119.7 450.7,119.9 450.9,119.4 451.2,119.6 451.4,119.1 451.7,118.0 451.9,118.2 452.1,118.0 452.3,117.3 452.4,117.7 452.6,116.7 452.8,115.5 453.0,116.0 453.2,116.0 453.4,114.6 453.5,115.2 453.7,112.6 453.9,115.4 454.1,112.8 454.3,113.0 454.5,112.8 454.6,111.6 454.8,112.5 455.0,111.2 455.2,110.5 455.3,109.4 455.5,111.3 455.6,111.3 455.8,109.8 455.9,109.8 456.1,110.5 456.2,109.2 456.4,109.4 456.6,108.9 456.7,108.3 456.9,107.8 457.0,108.0 457.2,106.7 457.3,106.3 457.5,105.1 457.6,103.4 457.8,104.1 457.9,104.3 458.1,105.3 458.2,103.5 458.4,101.5 458.5,103.8 458.6,104.0 458.7,102.7 458.9,102.3 459.0,101.9 459.1,101.1 459.3,102.3 459.4,99.5 459.5,99.2 459.6,98.0 459.8,98.7 459.9,98.1 460.0,97.7 460.2,98.3 460.3,99.0 460.4,95.7 460.6,97.1 460.7,95.7 460.8,95.3 460.9,95.2 461.1,95.9 461.2,92.9 461.2,96.6 461.3,94.1 461.3,92.9 461.3,91.3 461.4,94.5 461.4,93.6 461.4,93.5 461.5,92.0 461.5,93.9 461.5,93.3 461.6,93.7 461.6,90.7 461.6,91.2 461.7,88.8 461.7,89.2 461.7,88.1 461.8,88.3 461.8,87.9 461.8,87.4 461.9,87.0 461.9,86.8 462.0,86.3 462.1,86.3 462.2,87.1 462.3,89.2 462.4,89.7 462.5,90.7 462.6,93.1 462.7,88.3 462.7,91.5 462.8,88.8 462.9,90.3 463.0,90.3 463.1,92.0 463.2,94.2 463.3,94.8 463.4,93.6 463.5,94.9 463.7,93.8 463.9,91.1 464.1,94.8 464.3,91.3 464.6,91.1 464.8,91.4 465.0,89.7 465.2,89.9 465.4,91.6 465.6,88.7 465.8,88.8 466.0,86.8 466.2,86.2 466.5,89.2 466.7,89.0 466.9,87.5 467.1,90.4 467.3,85.8 467.5,88.5 467.8,86.9 468.0,88.4 468.3,89.5 468.5,87.0 468.7,91.5 469.0,89.7 469.2,90.2 469.4,90.3 469.7,91.4 469.9,89.4 470.2,89.9 470.4,92.4 470.8,91.8 471.2,91.8 471.6,93.0 471.9,94.9 472.3,91.5 472.7,89.8 473.1,92.9 473.5,91.2 473.9,93.0 474.2,91.8 474.6,93.0 475.0,95.3 475.4,92.4 475.8,90.0 476.1,90.6 476.5,90.4 476.7,90.3 476.9,93.3 477.1,93.3 477.3,94.7 477.5,94.8 477.8,93.9 478.0,93.6 478.2,94.1 478.4,95.1 478.6,94.6 478.8,93.8 478.8,98.4 478.8,96.9 478.9,94.2 478.9,93.6 478.9,93.3 478.9,94.0 478.9,92.5 479.0,89.5 479.0,92.6 479.0,92.5 479.0,89.4 479.0,88.9 479.1,90.4 479.1,88.5 479.1,91.3 479.1,90.6 479.1,86.3 479.2,89.3 479.2,85.9 479.2,86.6 479.2,89.4 479.2,86.5 479.3,87.6 479.3,85.4 479.3,89.0 479.3,85.3 479.3,90.0 479.4,85.4 479.4,83.5 479.4,83.8 479.4,82.8 479.4,85.6 479.5,80.6 479.5,83.7 479.5,84.3 479.5,83.2 479.5,78.4 479.6,82.9 479.6,81.6 479.6,81.8 479.7,78.2 479.7,80.8 479.8,83.0 479.9,81.5 479.9,82.0 480.0,81.3 480.1,82.1 480.2,82.9 480.2,87.7 480.3,83.4 480.4,83.2 480.4,82.7 480.5,85.6 480.6,85.6 480.6,84.8 480.7,83.3 480.8,89.6 480.9,86.6 480.9,86.1 481.0,88.1 481.1,86.6 481.1,88.0 481.2,85.8 481.4,87.6 481.7,84.0 481.9,89.0 482.1,87.3 482.4,86.6 482.6,86.6 482.8,84.0 483.0,85.9 483.3,85.5 483.5,86.6 483.7,83.6 484.0,83.6 484.2,84.0 484.6,84.3 485.0,83.9 485.4,84.0 485.8,84.9 485.9,84.2 486.0,84.8 486.1,84.3 486.2,82.6 486.3,86.3 486.5,85.1 486.6,86.0 486.7,84.6 486.8,89.8 486.9,89.2 487.0,87.3 487.1,89.1 487.2,90.1 487.3,92.2 487.4,89.8 487.6,91.3 487.7,89.0 487.8,90.3 487.9,90.8 488.0,91.0 488.1,90.2 488.2,93.1 488.2,91.3 488.3,91.9 488.4,93.3 488.4,95.8 488.5,95.8 488.6,94.5 488.6,93.6 488.7,93.6 488.8,95.9 488.8,97.3 488.9,97.8 488.9,97.0 489.0,96.5 489.1,98.5 489.1,99.8 489.2,98.7 489.3,99.7 489.3,99.2 489.4,99.7 489.5,102.0 489.5,100.1 489.6,102.6 489.7,101.2 489.7,102.0 489.8,103.2 489.8,103.5 489.9,102.6 490.0,103.4 490.0,104.0 490.1,104.4 490.1,104.7 490.2,106.0 490.3,104.6 490.3,106.7 490.4,107.2 490.4,105.6 490.5,107.1 490.5,106.8 490.6,106.6 490.7,108.4 490.7,109.2 490.8,108.8 490.8,109.8 490.9,109.9 491.0,108.7 491.0,110.6 491.1,111.9 491.1,112.6 491.2,111.0 491.3,111.2 491.3,113.0 491.4,112.9 491.5,113.6 491.6,113.5 491.6,114.8 491.7,115.1 491.8,114.8 491.9,115.5 491.9,115.8 492.0,116.6 492.1,116.8 492.2,117.3 492.2,117.8 492.3,117.9 492.4,118.0 492.5,119.1 492.5,118.8 492.6,118.8 492.7,119.4 492.8,120.3 492.8,120.4 492.9,120.8 493.0,121.5 493.1,122.0 493.1,122.1 493.2,122.4 493.3,123.1 493.4,123.8 493.4,123.3 493.5,124.0 493.6,124.2 493.7,124.8 493.8,125.7 493.9,126.5 494.0,126.2 494.1,126.3 494.2,126.7 494.3,127.6 494.4,128.1 494.5,128.5 494.6,128.8 494.7,128.9 494.8,129.3 494.9,129.9 495.0,130.4 495.1,130.6 495.2,130.9 495.3,131.7 495.4,131.6 495.5,132.5 495.6,132.5 495.7,133.2 495.8,133.4 496.0,134.0 496.2,134.2 496.4,134.7 496.6,135.1 496.8,135.4 497.0,135.7 497.1,136.1 497.3,136.5 497.5,137.0 497.7,137.2 497.9,137.7 498.1,138.1 498.5,138.1 498.9,138.2 499.3,138.2 499.7,138.3 500.1,138.3 500.5,138.4 500.9,138.4 501.4,138.5 501.8,138.5 502.2,138.5 502.6,138.6 503.0,138.7 503.4,138.7 503.8,138.7 504.2,138.8 504.6,138.8 505.0,138.8 505.4,138.8 505.8,138.8 506.2,138.8 506.6,138.8 507.1,138.9 507.5,138.9 507.9,138.9 508.3,138.9 508.7,138.9 509.1,138.9 509.5,138.9 509.9,138.9 510.3,138.9 510.7,138.9 511.1,138.9 511.6,139.0 512.0,139.0 512.4,139.0 512.8,139.0 513.2,139.0 513.6,139.0 514.0,139.0" fill="none" stroke="#000" stroke-width="2.1" stroke-linejoin="round"/>
<text x="53.4" y="85.3" font-size="12.4" textLength="25.2" lengthAdjust="spacingAndGlyphs">CD3</text><line x1="79.5" y1="78" x2="82.8" y2="78" stroke="#000" stroke-width="1.4"/>
<text x="121.5" y="68.1" font-size="12.4" textLength="25.2" lengthAdjust="spacingAndGlyphs">CD3</text><text x="145.6" y="64.7" font-size="8.3" textLength="19.6" lengthAdjust="spacingAndGlyphs">low/</text><line x1="167.3" y1="61.2" x2="173.5" y2="61.2" stroke="#000" stroke-width="1.6"/><line x1="170.4" y1="58.1" x2="170.4" y2="64.3" stroke="#000" stroke-width="1.6"/>
<text x="151.1" y="85.0" font-size="12.4" textLength="25.2" lengthAdjust="spacingAndGlyphs">CD3</text><line x1="176.6" y1="78.1" x2="182.6" y2="78.1" stroke="#000" stroke-width="1.5"/><line x1="179.6" y1="75.1" x2="179.6" y2="81.1" stroke="#000" stroke-width="1.5"/><line x1="183.6" y1="78.1" x2="189.6" y2="78.1" stroke="#000" stroke-width="1.5"/><line x1="186.6" y1="75.1" x2="186.6" y2="81.1" stroke="#000" stroke-width="1.5"/>
<text x="226" y="75.5" font-size="12.4" textLength="25.2" lengthAdjust="spacingAndGlyphs">CD3</text><line x1="251.6" y1="67.4" x2="255.4" y2="67.4" stroke="#000" stroke-width="1.6"/>
<text x="264.5" y="73.89999999999999" font-size="12.4" textLength="25.2" lengthAdjust="spacingAndGlyphs">CD3</text><text x="289.7" y="69.8" font-size="8.3" textLength="19.6" lengthAdjust="spacingAndGlyphs">low/</text><line x1="309.7" y1="66.4" x2="315.90000000000003" y2="66.4" stroke="#000" stroke-width="1.6"/><line x1="312.8" y1="63.300000000000004" x2="312.8" y2="69.5" stroke="#000" stroke-width="1.6"/>
<text x="318.9" y="75.05" font-size="12.4" textLength="25.2" lengthAdjust="spacingAndGlyphs">CD3</text><line x1="345.3" y1="68" x2="351.09999999999997" y2="68" stroke="#000" stroke-width="1.5"/><line x1="348.2" y1="65.1" x2="348.2" y2="70.9" stroke="#000" stroke-width="1.5"/><line x1="351.5" y1="68" x2="357.29999999999995" y2="68" stroke="#000" stroke-width="1.5"/><line x1="354.4" y1="65.1" x2="354.4" y2="70.9" stroke="#000" stroke-width="1.5"/>
<text x="378" y="75.6" font-size="12.4" textLength="25.2" lengthAdjust="spacingAndGlyphs">CD3</text><line x1="404.2" y1="68" x2="407.4" y2="68" stroke="#000" stroke-width="1.4"/>
<text x="418.8" y="75.0" font-size="12.4" textLength="25.2" lengthAdjust="spacingAndGlyphs">CD3</text><text x="444.8" y="71" font-size="8.3" textLength="19.6" lengthAdjust="spacingAndGlyphs">low/</text><line x1="464.79999999999995" y1="67.5" x2="471.0" y2="67.5" stroke="#000" stroke-width="1.6"/><line x1="467.9" y1="64.4" x2="467.9" y2="70.6" stroke="#000" stroke-width="1.6"/>
<text x="474" y="75.89999999999999" font-size="12.4" textLength="25.2" lengthAdjust="spacingAndGlyphs">CD3</text><line x1="499.90000000000003" y1="69" x2="505.7" y2="69" stroke="#000" stroke-width="1.5"/><line x1="502.8" y1="66.1" x2="502.8" y2="71.9" stroke="#000" stroke-width="1.5"/><line x1="506.3" y1="69" x2="512.1" y2="69" stroke="#000" stroke-width="1.5"/><line x1="509.2" y1="66.1" x2="509.2" y2="71.9" stroke="#000" stroke-width="1.5"/>
<text x="0.4" y="255.5" font-size="25" textLength="17.6" lengthAdjust="spacingAndGlyphs" style="stroke-width:0.7px">B</text>
<text transform="translate(27,430.6) rotate(-90)" font-size="16.5" textLength="152.8" lengthAdjust="spacingAndGlyphs">TREC / 10,000 cells</text>
<rect x="97.9" y="246.1" width="411.3" height="229.6" fill="none" stroke="#000" stroke-width="1.8"/>
<line x1="91.3" y1="246.2" x2="97.8" y2="246.2" stroke="#000" stroke-width="1.8"/>
<text x="68.65" y="252.7" font-size="16" text-anchor="middle" textLength="48.1" lengthAdjust="spacingAndGlyphs">15000</text>
<line x1="91.3" y1="323.3" x2="97.8" y2="323.3" stroke="#000" stroke-width="1.8"/>
<text x="68.05" y="329.6" font-size="16" text-anchor="middle" textLength="48.1" lengthAdjust="spacingAndGlyphs">10000</text>
<line x1="91.3" y1="400" x2="97.8" y2="400" stroke="#000" stroke-width="1.8"/>
<text x="68.55" y="406.5" font-size="16" text-anchor="middle" textLength="38.9" lengthAdjust="spacingAndGlyphs">5000</text>
<line x1="91.3" y1="475.8" x2="97.8" y2="475.8" stroke="#000" stroke-width="1.8"/>
<text x="67.65" y="482.7" font-size="16" text-anchor="middle" textLength="9.7" lengthAdjust="spacingAndGlyphs">0</text>
<rect x="130.7" y="402.8" width="32.90" height="72.90" fill="#020202" stroke="#000" stroke-width="1.9"/>
<rect x="163.6" y="415.1" width="31.30" height="60.60" fill="#f6f6f6" stroke="#000" stroke-width="1.9"/>
<rect x="194.9" y="402.3" width="32.70" height="73.40" fill="#999999" stroke="#000" stroke-width="1.9"/>
<rect x="227.6" y="374.7" width="31.60" height="101.00" fill="#575757" stroke="#000" stroke-width="1.9"/>
<rect x="343.6" y="357.4" width="31.50" height="118.30" fill="#020202" stroke="#000" stroke-width="1.9"/>
<rect x="375.1" y="375.1" width="32.70" height="100.60" fill="#f6f6f6" stroke="#000" stroke-width="1.9"/>
<rect x="407.8" y="348.5" width="32.50" height="127.20" fill="#999999" stroke="#000" stroke-width="1.9"/>
<rect x="440.3" y="306.4" width="32.00" height="169.30" fill="#575757" stroke="#000" stroke-width="1.9"/>
<line x1="179.2" y1="408.3" x2="179.2" y2="420.5" stroke="#000" stroke-width="1.4"/><line x1="173.7" y1="408.3" x2="184.7" y2="408.3" stroke="#000" stroke-width="1.6"/><line x1="173.7" y1="420.5" x2="184.7" y2="420.5" stroke="#000" stroke-width="1.6"/>
<line x1="211.3" y1="392.2" x2="211.3" y2="410.8" stroke="#000" stroke-width="1.4"/><line x1="207.10000000000002" y1="392.2" x2="215.5" y2="392.2" stroke="#000" stroke-width="1.6"/><line x1="207.10000000000002" y1="410.8" x2="215.5" y2="410.8" stroke="#000" stroke-width="1.6"/>
<line x1="243.6" y1="373.6" x2="243.6" y2="375" stroke="#000" stroke-width="1.4"/><line x1="239.6" y1="373.6" x2="247.6" y2="373.6" stroke="#000" stroke-width="1.6"/><line x1="239.6" y1="375" x2="247.6" y2="375" stroke="#000" stroke-width="1.6"/>
<line x1="391.3" y1="361.2" x2="391.3" y2="388.7" stroke="#000" stroke-width="1.4"/><line x1="387.1" y1="361.2" x2="395.5" y2="361.2" stroke="#000" stroke-width="1.6"/><line x1="387.1" y1="388.7" x2="395.5" y2="388.7" stroke="#000" stroke-width="1.6"/>
<line x1="424" y1="331.7" x2="424" y2="365.6" stroke="#000" stroke-width="1.4"/><line x1="420.2" y1="331.7" x2="427.8" y2="331.7" stroke="#000" stroke-width="1.6"/><line x1="420.2" y1="365.6" x2="427.8" y2="365.6" stroke="#000" stroke-width="1.6"/>
<line x1="455.2" y1="285.6" x2="455.2" y2="327.6" stroke="#000" stroke-width="1.4"/><line x1="451.2" y1="285.6" x2="459.2" y2="285.6" stroke="#000" stroke-width="1.6"/><line x1="451.2" y1="327.6" x2="459.2" y2="327.6" stroke="#000" stroke-width="1.6"/>
<polyline points="178,363.6 178,360.2 247.5,360.2 247.5,363.6" fill="none" stroke="#000" stroke-width="1.5"/>
<circle cx="210.6" cy="354.9" r="2" fill="#000"/>
<polyline points="387.4,276.2 387.4,273.2 456.9,273.2 456.9,276.2" fill="none" stroke="#000" stroke-width="1.5"/>
<circle cx="417.2" cy="266" r="1.95" fill="#000"/>
<circle cx="422.7" cy="266" r="1.95" fill="#000"/>
<rect x="110.9" y="254.20000000000002" width="9.5" height="9.6" fill="#020202" stroke="#000" stroke-width="1.8"/>
<rect x="110.9" y="268.0" width="9.5" height="9.6" fill="#f4f4f4" stroke="#000" stroke-width="1.8"/>
<rect x="110.9" y="281.79999999999995" width="9.5" height="9.6" fill="#a2a2a2" stroke="#000" stroke-width="1.8"/>
<rect x="110.9" y="295.4" width="9.5" height="9.6" fill="#606060" stroke="#000" stroke-width="1.8"/>
<text x="129.8" y="265" font-size="13.5" textLength="83" lengthAdjust="spacingAndGlyphs">Pre-cultured</text>
<text x="129.8" y="278.6" font-size="13.5" textLength="35.2" lengthAdjust="spacingAndGlyphs">None</text>
<text x="129.8" y="293" font-size="13.5" textLength="91" lengthAdjust="spacingAndGlyphs">IL-7 10 ng/mL</text>
<text x="165.3" y="306.2" font-size="13.5" textLength="61.6" lengthAdjust="spacingAndGlyphs">50 ng/mL</text>
<circle cx="266" cy="305.7" r="1.95" fill="#000"/>
<text x="279.8" y="312.3" font-size="11.5" textLength="38.6" lengthAdjust="spacingAndGlyphs">p&lt;0.09</text>
<circle cx="266.2" cy="319.3" r="1.95" fill="#000"/>
<circle cx="271" cy="319.3" r="1.95" fill="#000"/>
<text x="277.7" y="326.2" font-size="11.5" textLength="44.6" lengthAdjust="spacingAndGlyphs">p&lt;0.001</text>
<text x="143.9" y="504.7" font-size="16.6" textLength="32" lengthAdjust="spacingAndGlyphs">CD3</text>
<line x1="176.7" y1="493.8" x2="180.4" y2="493.8" stroke="#000" stroke-width="1.6"/>
<text x="188.3" y="504.7" font-size="16.6" textLength="62.2" lengthAdjust="spacingAndGlyphs">fraction</text>
<text x="350.8" y="504.6" font-size="16.6" textLength="32.6" lengthAdjust="spacingAndGlyphs">CD3</text>
<line x1="384.2" y1="494.5" x2="391.2" y2="494.5" stroke="#000" stroke-width="1.9"/><line x1="387.7" y1="491.0" x2="387.7" y2="498.0" stroke="#000" stroke-width="1.9"/>
<text x="400.1" y="504.6" font-size="16.6" textLength="61.4" lengthAdjust="spacingAndGlyphs">fraction</text>
</g>
</svg></body></html>
